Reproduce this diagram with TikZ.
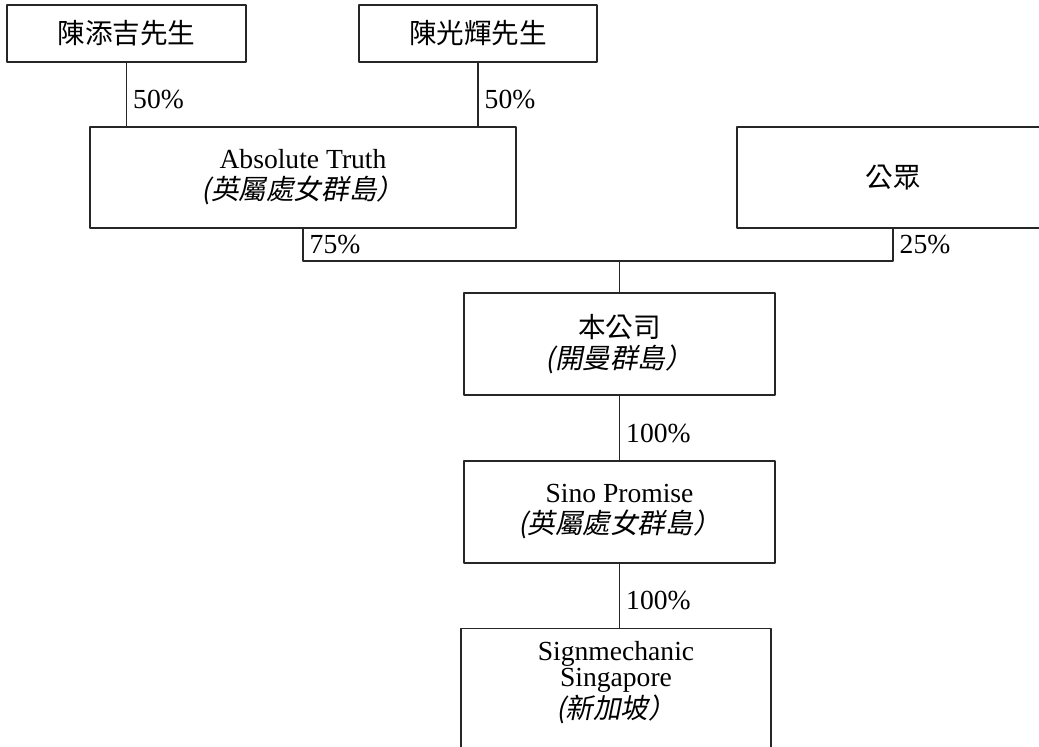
\documentclass[tikz,border=0pt]{standalone}
\usepackage{fontspec}
\setmainfont{Liberation Serif}
\newfontfamily\cjk{Noto Sans CJK TC}
\newfontfamily\cjkit[FakeSlant=0.2]{Noto Sans CJK TC}

\begin{document}
\begin{tikzpicture}[
        x = 0.5pt, y = -0.5pt,
        line join=round,
        box/.style = {draw=black!85, line width=0.7pt, inner sep=0pt, align=center,
                      font=\fontsize{13.8}{15.5}\selectfont},
        pct/.style = {font=\fontsize{13.8}{14.5}\selectfont, inner sep=3pt, anchor=west},
        low/.style = {yshift=-2.5pt},
        link/.style = {draw=black!85, line width=0.7pt}
    ]

    \useasboundingbox (0,0) rectangle (1039,746);
    \clip (0,0) rectangle (1039,746);

    % shareholders
    \node[box, minimum width=119.5pt, minimum height=28.5pt] (tan1) at (126.5,33.5) {\cjk 陳添吉先生};
    \node[box, minimum width=119pt, minimum height=28.5pt] (tan2) at (478,33.5) {\cjk 陳光輝先生};

    \node[box, minimum width=213pt, minimum height=50.5pt] (truth) at (303,177.5)
        {Absolute Truth\\{\cjkit (英屬處女群島）}};
    \node[box, minimum width=156pt, minimum height=50.5pt] (public) at (893,177.5) {\cjk 公眾};

    % group
    \node[box, minimum width=155.5pt, minimum height=51pt] (company) at (619.5,344)
        {{\cjk 本公司}\\{\cjkit (開曼群島）}};
    \node[box, minimum width=155.5pt, minimum height=51pt] (sino) at (619.5,512)
        {Sino Promise\\{\cjkit (英屬處女群島）}};
    \node[box, anchor=north, minimum width=155pt, minimum height=75pt,
          label={[name=signtext, anchor=north, align=center, inner sep=0pt, yshift=-6.5pt,
                  font=\fontsize{13.8}{13}\selectfont]north:Signmechanic\\Singapore\\{\cjkit (新加坡）}}]
        (sign) at (616,628) {};

    \coordinate (hub) at (619.5,261);

    \draw[link] (tan1.south) -- node[pct, low] {50\%} (tan1.south |- truth.north);
    \draw[link] (tan2.south) -- node[pct, low] {50\%} (tan2.south |- truth.north);

    \draw[link] (truth.south) -- node[pct] {75\%} (truth.south |- hub)
        -- (public.south |- hub) -- node[pct, pos=0.5] {25\%} (public.south);
    \draw[link] (hub) -- (company.north);

    \draw[link] (company.south) -- node[pct, low] {100\%} (sino.north);
    \draw[link] (sino.south) -- node[pct, low] {100\%} (sino.south |- sign.north);

\end{tikzpicture}
\end{document}
